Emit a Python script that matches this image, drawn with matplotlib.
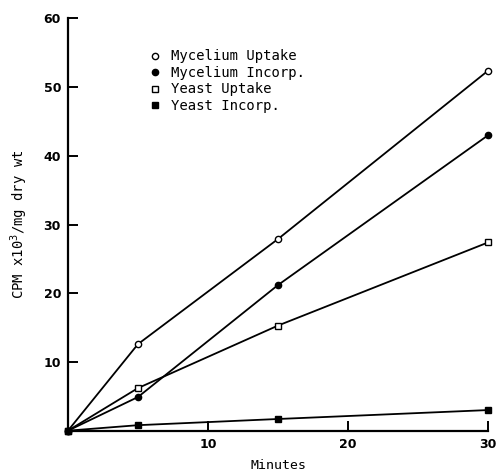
import matplotlib.pyplot as plt
from matplotlib.lines import Line2D

minutes = [0, 5, 15, 30]
mycelium_uptake = [0, 12.6, 27.9, 52.4]
mycelium_incorp = [0, 4.9, 21.2, 43.0]
yeast_uptake = [0, 6.2, 15.3, 27.4]
yeast_incorp = [0, 0.8, 1.7, 3.0]

labels = ['Mycelium Uptake', 'Mycelium Incorp.', 'Yeast Uptake', 'Yeast Incorp.']

fig = plt.figure(figsize=(4.98, 4.74), dpi=100)
ax = fig.add_axes([0.1365, 0.0914, 0.8435, 0.8696])

# (values, marker, fill)
series = [
    (mycelium_uptake, 'o', 'white'),
    (mycelium_incorp, 'o', 'black'),
    (yeast_uptake, 's', 'white'),
    (yeast_incorp, 's', 'black'),
]
handles = []
for vals, m, fc in series:
    ax.plot(minutes, vals, color='black', lw=1.3, marker=m, markersize=4.5,
            markerfacecolor=fc, markeredgecolor='black', markeredgewidth=1.0,
            clip_on=False, zorder=3)
    handles.append(Line2D([], [], ls='none', marker=m, markersize=4.5,
                          markerfacecolor=fc, markeredgecolor='black'))

ax.set_xlim(0, 30)
ax.set_ylim(0, 60)
ax.set_xticks([10, 20, 30])
ax.set_yticks([10, 20, 30, 40, 50, 60])
ax.spines['top'].set_visible(False)
ax.spines['right'].set_visible(False)
for s in ['left', 'bottom']:
    ax.spines[s].set_linewidth(1.6)
ax.tick_params(direction='in', length=7.5, width=1.4, labelsize=9, pad=5)
for t in ax.get_xticklabels() + ax.get_yticklabels():
    t.set_fontweight('bold')

ax.set_xlabel('Minutes', fontsize=9.5, family='DejaVu Sans Mono', labelpad=6)
ax.set_ylabel('CPM x10$^3$/mg dry wt', fontsize=10, family='DejaVu Sans Mono', labelpad=10)

leg = ax.legend(handles, labels, loc='upper left', bbox_to_anchor=(0.19, 0.925),
                frameon=False, handlelength=1.0, handletextpad=0.7,
                labelspacing=0.18, borderpad=0, borderaxespad=0,
                prop={'family': 'DejaVu Sans Mono', 'size': 10})

fig.savefig('out.png', dpi=100)
